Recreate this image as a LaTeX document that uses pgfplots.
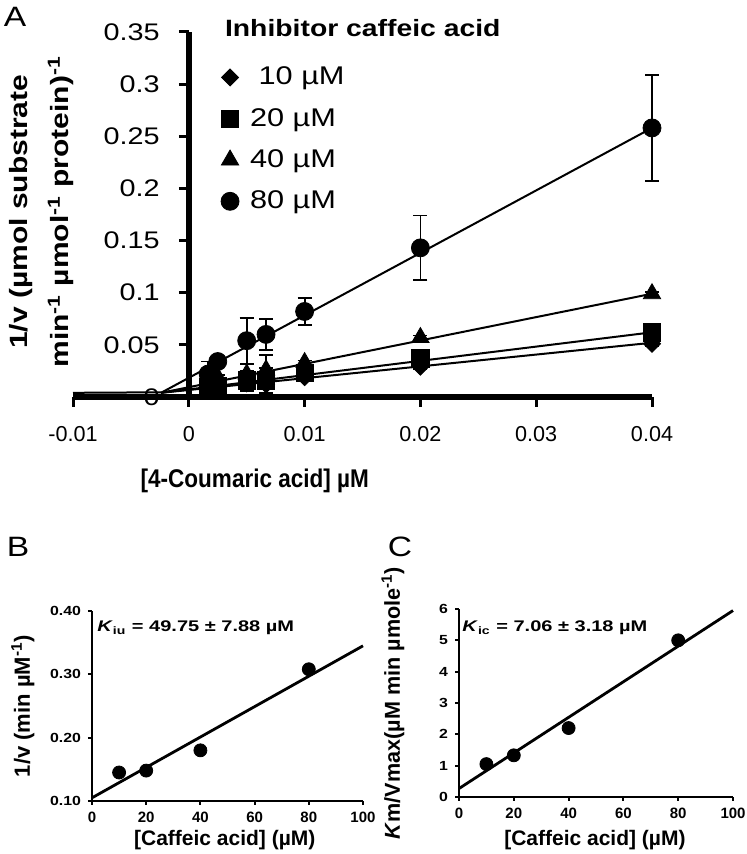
\documentclass[border=0pt]{standalone}
\usepackage{fontspec}
\setmainfont{Liberation Sans}
\newfontfamily\fw{Liberation Sans}[FakeStretch=1.2]
\newfontfamily\fww{Liberation Sans}[FakeStretch=1.3]
\newfontfamily\fn{Liberation Sans}[FakeStretch=0.88]
\usepackage{pgfplots}
\pgfplotsset{compat=1.18}

\pgfplotsset{
  noarrow/.style={
    axis line style={-},
    every inner x axis line/.append style={-},
    every inner y axis line/.append style={-},
    every outer x axis line/.append style={-},
    every outer y axis line/.append style={-},
  },
  errA/.style={error bars/.cd, y dir=both, y explicit,
    error bar style={line width=0.9pt},
    error mark options={rotate=90, mark size=3.5pt, line width=0.9pt}},
}

% Lineweaver-Burk data, 1/[S] vs 1/v with error
\pgfplotstableread{
x        y      e
0.00167  0.012  0.002
0.0025   0.011  0.002
0.005    0.013  0.007
0.00667  0.012  0.003
0.01     0.019  0.002
0.02     0.029  0.002
0.04     0.051  0.002
}\tabTen
\pgfplotstableread{
x        y      e
0.00167  0.010  0.002
0.0025   0.011  0.002
0.005    0.016  0.003
0.00667  0.016  0.012
0.01     0.023  0.002
0.02     0.037  0.002
0.04     0.062  0.002
}\tabTwenty
\pgfplotstableread{
x        y      e
0.00167  0.015  0.002
0.0025   0.019  0.002
0.005    0.022  0.003
0.00667  0.026  0.014
0.01     0.033  0.002
0.02     0.057  0.002
0.04     0.099  0.002
}\tabForty
\pgfplotstableread{
x        y      e
0.00167  0.022  0.012
0.0025   0.034  0.004
0.005    0.054  0.022
0.00667  0.060  0.015
0.01     0.082  0.013
0.02     0.143  0.031
0.04     0.258  0.051
}\tabEighty

\begin{document}
\begin{tikzpicture}
\path[use as bounding box] (0,0) rectangle (373.5pt,427pt);

% ---------- panel A ----------
\begin{axis}[
  at={(36.5pt,228.5pt)}, anchor=south west,
  scale only axis, width=289.5pt, height=182.5pt,
  xmin=-0.01, xmax=0.04, ymin=0, ymax=0.35,
  axis lines=middle, noarrow,
  axis line style={line width=3pt},
  hide obscured x ticks=false, hide obscured y ticks=false,
  scaled x ticks=false, scaled y ticks=false,
  xtick={-0.01,0,0.01,0.02,0.03,0.04},
  xticklabels={-0.01,0,0.01,0.02,0.03,0.04},
  ytick={0,0.05,0.1,0.15,0.2,0.25,0.3,0.35},
  yticklabels={0,0.05,0.1,0.15,0.2,0.25,0.3,0.35},
  tick align=outside, major tick length=5pt,
  tick style={line width=1.5pt, black},
  xticklabel style={font=\fontsize{10.8}{12}\selectfont, yshift=-6pt},
  yticklabel style={font=\fw\fontsize{12}{13}\selectfont, xshift=-6pt},
  xlabel={[4-Coumaric acid] µM},
  xlabel style={at={(axis description cs:0.314,-0.23)}, anchor=center,
    font=\fn\bfseries\fontsize{12.8}{15}\selectfont},
  ylabel={1/v (µmol substrate\\min\textsuperscript{-1} µmol\textsuperscript{-1} protein)\textsuperscript{-1}},
  ylabel style={at={(axis description cs:-0.054,0.507)}, anchor=center, rotate=90,
    align=center, font=\fw\bfseries\fontsize{12.5}{20.5}\selectfont},
  legend style={at={(axis description cs:0.255,0.916)}, anchor=north west,
    draw=none, fill=none, inner sep=0pt, row sep=6.2pt,
    font=\fw\fontsize{12.8}{15}\selectfont,
    /tikz/every odd column/.append style={column sep=3.5pt}},
  legend cell align=left,
  legend image code/.code={\draw[#1] plot coordinates {(4pt,0pt)};},
  clip=false,
]
% fitted lines
\addplot[black, line width=1pt, forget plot] coordinates {(-0.01,0.004) (-0.0024,0.0045)};
\addplot[black, line width=1pt, forget plot] coordinates {(-0.0024,0.004) (0.04,0.052)};
\addplot[black, line width=1pt, forget plot] coordinates {(-0.0024,0.004) (0.04,0.062)};
\addplot[black, line width=1pt, forget plot] coordinates {(-0.0024,0.004) (0.04,0.099)};
\addplot[black, line width=1pt, forget plot] coordinates {(-0.0024,0.004) (0.04,0.258)};
% measured points
\addplot[black, only marks, mark=square*, mark size=3pt, mark options={rotate=45}, errA]
  table[x=x, y=y, y error=e] {\tabTen};
\addlegendentry{\ 10 µM}
\addplot[black, only marks, mark=square*, mark size=4.3pt, errA]
  table[x=x, y=y, y error=e] {\tabTwenty};
\addlegendentry{20 µM}
\addplot[black, only marks, mark=triangle*, mark size=5pt, errA]
  table[x=x, y=y, y error=e] {\tabForty};
\addlegendentry{40 µM}
\addplot[black, only marks, mark=*, mark size=4.5pt, errA]
  table[x=x, y=y, y error=e] {\tabEighty};
\addlegendentry{80 µM}
\end{axis}
\node[anchor=west, font=\fw\bfseries\fontsize{11.8}{14}\selectfont] at (109pt,413pt) {Inhibitor caffeic acid};
\node[font=\fw\fontsize{14}{16}\selectfont] at (7.5pt,418.5pt) {A};

% ---------- panel B ----------
\begin{axis}[
  at={(46pt,26.5pt)}, anchor=south west,
  scale only axis, width=135.5pt, height=95pt,
  xmin=0, xmax=100, ymin=0.1, ymax=0.4,
  axis x line=bottom, axis y line=left, noarrow,
  axis line style={line width=1pt},
  xtick={0,20,40,60,80,100}, xticklabels={0,20,40,60,80,100},
  ytick={0.1,0.2,0.3,0.4}, yticklabels={0.10,0.20,0.30,0.40},
  tick align=outside, major tick length=2pt,
  tick style={line width=1pt, black},
  xticklabel style={font=\bfseries\fontsize{7.5}{9}\selectfont},
  yticklabel style={font=\fw\bfseries\fontsize{6.6}{8}\selectfont},
  xlabel={[Caffeic acid] (µM)},
  xlabel style={at={(axis description cs:0.49,-0.205)}, anchor=center,
    font=\bfseries\fontsize{10.5}{12}\selectfont},
  ylabel={1/v (min µM\textsuperscript{-1})},
  ylabel style={at={(axis description cs:-0.255,0.5)}, anchor=center,
    font=\bfseries\fontsize{11}{13}\selectfont},
  clip=false,
]
\addplot[black, line width=1.4pt] coordinates {(0,0.105) (100,0.345)};
\addplot[black, only marks, mark=*, mark size=3.25pt] coordinates {
  (10,0.145) (20,0.148) (40,0.180) (80,0.308)};
\node[anchor=base west, inner sep=0pt, font=\fww\bfseries\fontsize{7.7}{9}\selectfont]
  at (axis cs:1.8,0.367) {\textit{K}\textsubscript{iu} = 49.75 ± 7.88 µM};
\end{axis}
\node[font=\fw\fontsize{14}{16}\selectfont] at (9pt,153.5pt) {B};

% ---------- panel C ----------
\begin{axis}[
  at={(229.5pt,28.5pt)}, anchor=south west,
  scale only axis, width=137pt, height=94pt,
  xmin=0, xmax=100, ymin=0, ymax=6,
  axis x line=bottom, axis y line=left, noarrow,
  axis line style={line width=1pt},
  xtick={0,20,40,60,80,100}, xticklabels={0,20,40,60,80,100},
  ytick={0,1,2,3,4,5,6}, yticklabels={0,1,2,3,4,5,6},
  tick align=outside, major tick length=2pt,
  tick style={line width=1pt, black},
  xticklabel style={font=\bfseries\fontsize{7.5}{9}\selectfont},
  yticklabel style={font=\fw\bfseries\fontsize{6.6}{8}\selectfont},
  xlabel={[Caffeic acid] (µM)},
  xlabel style={at={(axis description cs:0.496,-0.229)}, anchor=center,
    font=\bfseries\fontsize{10.5}{12}\selectfont},
  ylabel={\textit{K}m/Vmax(µM min µmole\textsuperscript{-1})},
  ylabel style={at={(axis description cs:-0.241,0.5)}, anchor=center,
    font=\bfseries\fontsize{10.8}{13}\selectfont},
  clip=false,
]
\addplot[black, line width=1.4pt] coordinates {(0,0.27) (100,5.95)};
\addplot[black, only marks, mark=*, mark size=3.25pt] coordinates {
  (10,1.05) (20,1.33) (40,2.2) (80,5.0)};
\node[anchor=base west, inner sep=0pt, font=\fww\bfseries\fontsize{7.7}{9}\selectfont]
  at (axis cs:1.1,5.27) {\textit{K}\textsubscript{ic} = 7.06 ± 3.18 µM};
\end{axis}
\node[font=\fw\fontsize{14}{16}\selectfont] at (200pt,153.5pt) {C};
\end{tikzpicture}
\end{document}
